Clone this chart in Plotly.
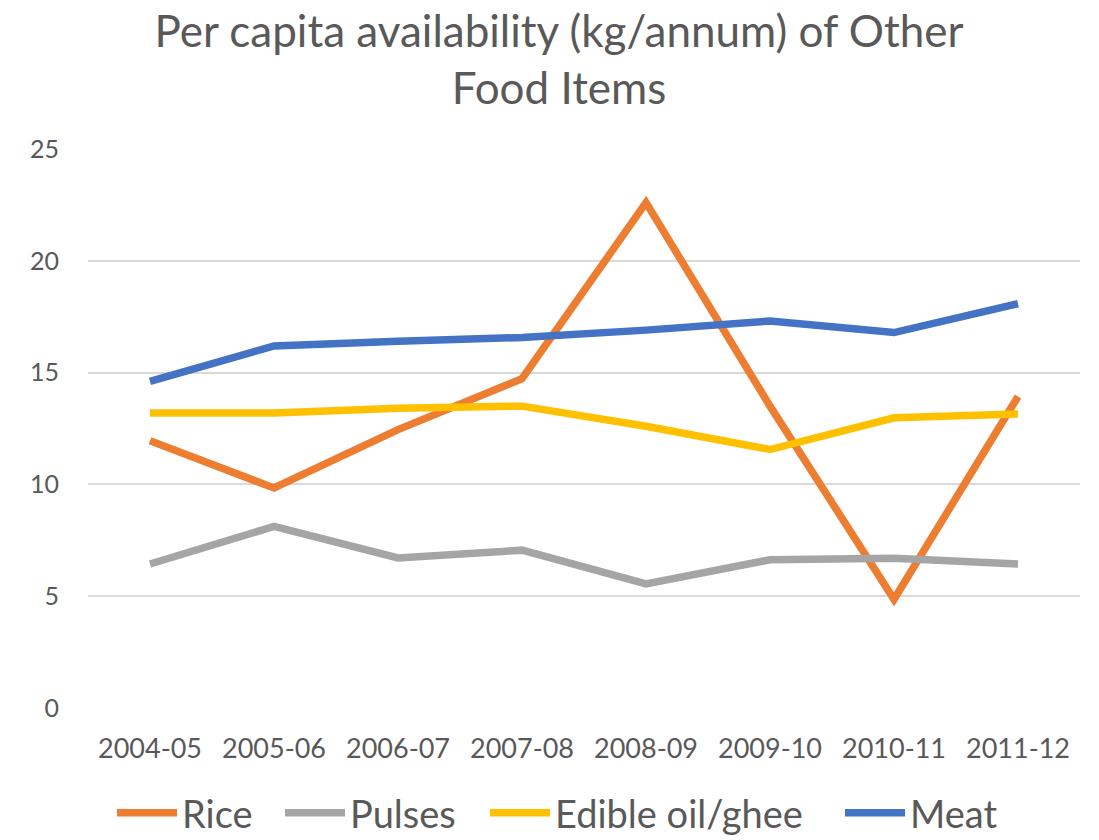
import plotly.graph_objects as go

years = ["2004-05", "2005-06", "2006-07", "2007-08", "2008-09", "2009-10", "2010-11", "2011-12"]
rice = [11.95, 9.84, 12.45, 14.73, 22.6, 13.5, 4.86, 13.93]
pulses = [6.44, 8.12, 6.71, 7.06, 5.55, 6.63, 6.70, 6.44]
oil = [13.19, 13.19, 13.41, 13.5, 12.6, 11.56, 12.98, 13.15]
meat = [14.61, 16.19, 16.4, 16.57, 16.9, 17.31, 16.79, 18.08]

series = [
    ("Rice", rice, "#ED7D31"),
    ("Pulses", pulses, "#A5A5A5"),
    ("Edible oil/ghee", oil, "#FFC000"),
    ("Meat", meat, "#4472C4"),
]

FONT = "Lato"
TXT = "#595959"
W, H = 1099, 840
legend_left = [112, 280, 485, 840]  # pixel left edge of each legend entry

fig = go.Figure()
legend_names = ["legend", "legend2", "legend3", "legend4"]
for (name, vals, col), lg in zip(series, legend_names):
    fig.add_trace(go.Scatter(
        x=years, y=vals, name=name, mode="lines",
        line=dict(color=col, width=7.5),
        legend=lg,
    ))

legend_common = dict(
    orientation="h", xanchor="left", yanchor="middle",
    xref="container", yref="container", y=(H - 813) / H,
    font=dict(family=FONT, size=38, color=TXT),
    itemwidth=60, bgcolor="rgba(0,0,0,0)",
)

layout_legends = {}
for lg, left in zip(legend_names, legend_left):
    layout_legends[lg] = dict(legend_common, x=left / W)

fig.update_layout(
    width=W, height=H,
    margin=dict(l=88, r=19, t=149, b=132),
    paper_bgcolor="white", plot_bgcolor="white",
    font=dict(family=FONT, color=TXT),
    title=dict(
        text="Per capita availability (kg/annum) of Other<br>Food Items",
        x=559 / W, xanchor="center", xref="container",
        y=0.944, yanchor="top", yref="container",
        font=dict(family=FONT, size=44, color=TXT),
    ),
    showlegend=True,
    xaxis=dict(
        type="category", range=[-0.5, 7.5],
        showgrid=False, showline=False, zeroline=False,
        ticks="", ticklabelstandoff=22,
        tickfont=dict(family=FONT, size=27, color=TXT),
    ),
    yaxis=dict(
        range=[0, 25], tickvals=[0, 5, 10, 15, 20, 25],
        showgrid=True, gridcolor="#D9D9D9", gridwidth=1.5,
        zeroline=False, showline=False, ticks="", ticklabelstandoff=28,
        tickfont=dict(family=FONT, size=25, color=TXT),
    ),
    **layout_legends,
)

fig.write_html(
    "out.html",
    config={"displayModeBar": False},
    post_script="document.body.style.margin='0';document.body.style.overflow='hidden';",
)
